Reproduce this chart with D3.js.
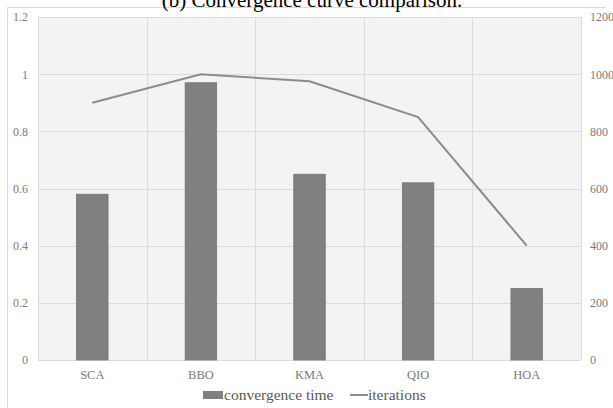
<!DOCTYPE html>
<html><head><meta charset="utf-8">
<script src="https://cdn.jsdelivr.net/npm/d3@7"></script>
<style>body{margin:0;background:#fff}svg{display:block}svg text{font-family:"Liberation Serif","DejaVu Serif",serif !important}</style>
</head><body>
<svg id="c" width="613" height="408"></svg>
<script>
const categories = ["SCA","BBO","KMA","QIO","HOA"];
const convergenceTime = [0.58,0.97,0.65,0.62,0.25];
const iterations = [900,1000,975,850,400];
const leftTicks = [0,0.2,0.4,0.6,0.8,1,1.2];
const rightTicks = [0,200,400,600,800,1000,1200];
const title = "(b) Convergence curve comparison.";

const svg = d3.select("#c");
const m = {l:38, r:581, t:17, b:360};

// outer frame (top + left)
svg.append("line").attr("x1",7.5).attr("x2",606).attr("y1",7.5).attr("y2",7.5).attr("stroke","#d9d9d9");
svg.append("line").attr("x1",7.5).attr("x2",7.5).attr("y1",7.5).attr("y2",408).attr("stroke","#d9d9d9");

// title
svg.append("text").attr("x",312).attr("y",7).attr("text-anchor","middle")
  .attr("font-size",21).attr("fill","#000").text(title);

const x = d3.scaleBand().domain(categories).range([m.l,m.r]).paddingInner(0).paddingOuter(0);
const yL = d3.scaleLinear().domain([0,1.2]).range([m.b,m.t]);
const yR = d3.scaleLinear().domain([0,1200]).range([m.b,m.t]);

// plot background
svg.append("rect").attr("x",m.l).attr("y",m.t).attr("width",m.r-m.l).attr("height",m.b-m.t).attr("fill","#f3f3f3");

// horizontal gridlines
svg.append("g").selectAll("line").data(leftTicks).join("line")
  .attr("x1",m.l).attr("x2",m.r).attr("y1",d=>Math.round(yL(d))+0.5).attr("y2",d=>Math.round(yL(d))+0.5)
  .attr("stroke","#dcdcdc");
// vertical gridlines at category boundaries
const bounds = categories.map(c=>x(c)).concat([m.r]);
svg.append("g").selectAll("line").data(bounds).join("line")
  .attr("x1",d=>Math.round(d)+0.5).attr("x2",d=>Math.round(d)+0.5).attr("y1",m.t).attr("y2",m.b)
  .attr("stroke","#dcdcdc");

// bars
const bw = x.bandwidth()*0.29;
svg.append("g").selectAll("rect").data(categories).join("rect")
  .attr("x",(d)=>x(d)+x.bandwidth()/2-bw/2).attr("width",bw)
  .attr("y",(d,i)=>yL(convergenceTime[i])).attr("height",(d,i)=>yL(0)-yL(convergenceTime[i]))
  .attr("fill","#808080").attr("stroke","#757575").attr("stroke-width",0.8);

// line
const line = d3.line().x(d=>x(d[0])+x.bandwidth()/2).y(d=>yR(d[1]));
svg.append("path").datum(categories.map((c,i)=>[c,iterations[i]])).attr("d",line)
  .attr("fill","none").attr("stroke","#8c8c8c").attr("stroke-width",2);

// axes
const axL = d3.axisLeft(yL).tickValues(leftTicks).tickSize(0).tickPadding(10).tickFormat(d=>String(d));
const gL = svg.append("g").attr("transform",`translate(${m.l},0)`).call(axL);
const axR = d3.axisRight(yR).tickValues(rightTicks).tickSize(0).tickPadding(9).tickFormat(d=>String(d));
const gR = svg.append("g").attr("transform",`translate(${m.r},0)`).call(axR);
const axB = d3.axisBottom(x).tickSize(0).tickPadding(10);
const gB = svg.append("g").attr("transform",`translate(0,${m.b})`).call(axB);
[gL,gR,gB].forEach(g=>{
  g.select(".domain").remove();
  g.selectAll("text").attr("font-size",12).attr("fill","#7a7a7a");
});
gB.selectAll("text").attr("font-size",12.5);

// legend
const lg = svg.append("g").attr("font-size",15.5).attr("fill","#595959");
lg.append("rect").attr("x",203).attr("y",391).attr("width",20).attr("height",8).attr("fill","#808080");
lg.append("text").attr("x",224).attr("y",400).attr("fill","#595959").text("convergence time");
lg.append("line").attr("x1",350).attr("x2",368).attr("y1",395).attr("y2",395).attr("stroke","#8c8c8c").attr("stroke-width",2);
lg.append("text").attr("x",368).attr("y",400).attr("fill","#595959").text("iterations");
</script>
</body></html>
